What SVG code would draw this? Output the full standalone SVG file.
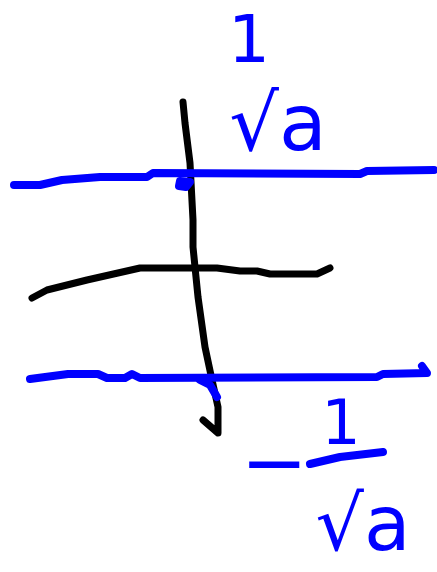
<svg xmlns="http://www.w3.org/2000/svg" width="437" height="572" viewBox="0 0 437 572">
<style>
.blue{fill:none;stroke:#0000ff;stroke-width:8;stroke-linecap:round;stroke-linejoin:round}
.black{fill:none;stroke:#000000;stroke-width:7;stroke-linecap:round;stroke-linejoin:round}
.lbl{fill:#0000ff;font-family:"DejaVu Sans","Liberation Sans",sans-serif;text-anchor:middle}
</style>
<rect width="437" height="572" fill="#ffffff"/>
<g id="axis-vertical">
<path class="black" d="M183,102 L185,123 L190,163 L193,220 L193,247 L198,297 L205,347 L212,380 L218,407 L218,433 L203,420"/>
</g>
<g id="curve">
<path class="black" d="M32,298 L47,290 L87,280 L140,268 L217,268 L240,271 L257,271 L270,274 L317,274 L330,268"/>
</g>
<g id="line-top">
<path class="blue" d="M14,185 L40,185 L62,180 L100,177 L147,177 L153,173 L360,174 L367,171 L434,170"/>
<path class="blue" d="M180,181 L190,182 L186,187 L179,186Z" style="fill:#0000ff"/>
</g>
<g id="line-bottom">
<path class="blue" d="M30,379 L68,374 L98,374 L107,378 L125,378 L132,374 L140,378 L377,377 L383,374 L427,373 L422,366"/>
<path class="blue" d="M200,380 L210,385 L217,397"/>
</g>
<g id="label-top">
<text class="lbl" x="249" y="62" font-size="66">1</text>
<text class="lbl" x="278" y="150" font-size="78">√a</text>
</g>
<g id="label-bottom">
<text class="lbl" x="274" y="490" font-size="80">−</text>
<text class="lbl" x="341" y="444" font-size="62">1</text>
<path class="blue" d="M310,464 L340,457 L383,452"/>
<text class="lbl" x="363" y="550" font-size="76">√a</text>
</g>
</svg>
